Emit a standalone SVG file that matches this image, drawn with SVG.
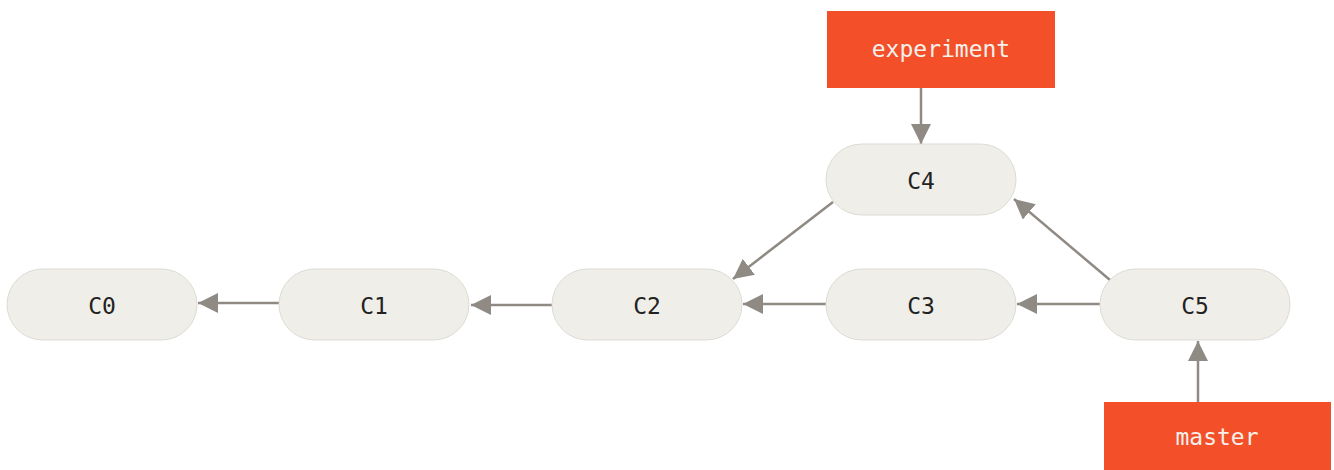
<svg xmlns="http://www.w3.org/2000/svg" width="1334" height="470" viewBox="0 0 1334 470">
<defs>
<style>
.node rect{fill:#efeee8;stroke:#dcdbd4;stroke-width:1}
.node text{font-family:"DejaVu Sans Mono","Liberation Mono",monospace;font-size:23px;fill:#222;text-anchor:middle;dominant-baseline:central}
.ref rect{fill:#f34f29}
.ref text{font-family:"DejaVu Sans Mono","Liberation Mono",monospace;font-size:23px;fill:#f4f1ec;text-anchor:middle;dominant-baseline:central}
.conn line{stroke:#8f8a83;stroke-width:2.5;marker-end:url(#ah)}
</style>
<marker id="ah" viewBox="0 0 20 20" refX="20" refY="10" markerWidth="20" markerHeight="20" markerUnits="userSpaceOnUse" orient="auto">
<path d="M0,0 L20,10 L0,20 Z" fill="#8f8a83"/>
</marker>
</defs>
<rect width="1334" height="470" fill="#fff"/>
<g id="connectors" class="conn">
<line x1="279" y1="303" x2="198" y2="303"/>
<line x1="552" y1="305" x2="471" y2="305"/>
<line x1="826" y1="304" x2="743" y2="304"/>
<line x1="1100" y1="304" x2="1017" y2="304"/>
<line x1="833" y1="202" x2="733" y2="279"/>
<line x1="1110" y1="280" x2="1014" y2="199"/>
<line x1="921" y1="88" x2="921" y2="144"/>
<line x1="1198" y1="402" x2="1198" y2="341"/>
</g>
<g id="C0" class="node"><rect x="7" y="269" width="190" height="71" rx="35.5"/><text x="102" y="306">C0</text></g>
<g id="C1" class="node"><rect x="279" y="269" width="190" height="71" rx="35.5"/><text x="374" y="306">C1</text></g>
<g id="C2" class="node"><rect x="552" y="269" width="190" height="71" rx="35.5"/><text x="647" y="306">C2</text></g>
<g id="C3" class="node"><rect x="826" y="269" width="190" height="71" rx="35.5"/><text x="921" y="306">C3</text></g>
<g id="C5" class="node"><rect x="1100" y="269" width="190" height="71" rx="35.5"/><text x="1195" y="306">C5</text></g>
<g id="C4" class="node"><rect x="826" y="144" width="190" height="71" rx="35.5"/><text x="921" y="181">C4</text></g>
<g id="experiment" class="ref"><rect x="827" y="11" width="228" height="77"/><text x="941" y="49">experiment</text></g>
<g id="master" class="ref"><rect x="1104" y="402" width="227" height="68"/><text x="1217" y="437">master</text></g>
</svg>
